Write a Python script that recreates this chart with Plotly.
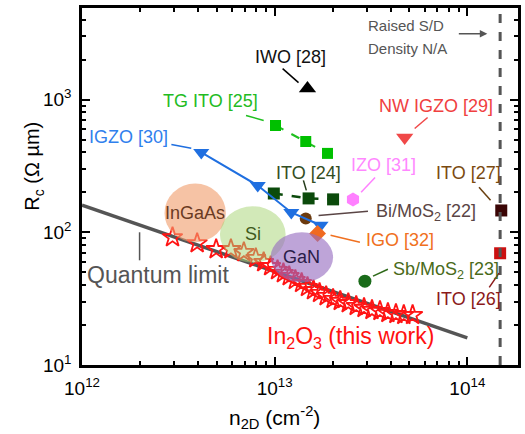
import numpy as np
import plotly.graph_objects as go

# ---- data: sheet density n2D (cm^-2) and contact resistance Rc (ohm*um) ----
in2o3_n = [2.95e12, 3.96e12, 4.97e12, 5.93e12, 6.92e12, 7.98e12, 8.77e12, 9.53e12,
           1.035e13, 1.11e13, 1.19e13, 1.28e13, 1.38e13, 1.48e13, 1.59e13, 1.71e13,
           1.85e13, 2.01e13, 2.19e13, 2.41e13, 2.65e13, 2.91e13, 3.20e13, 3.52e13,
           3.87e13, 4.26e13, 4.68e13, 5.20e13]
in2o3_rc = [91.6, 82.6, 74.5, 74.5, 70.8, 63.8, 59.5, 55.5, 51.8, 49.2, 46.7, 43.6,
            41.4, 38.6, 36.6, 34.8, 33.0, 31.4, 30.3, 29.2, 27.8, 26.9, 25.9, 25.5,
            24.6, 24.2, 23.8, 23.8]

quantum_n = [1e12, 1e14]
quantum_rc = [160, 16]

igzo30_n = [4.16e12, 8.17e12, 1.22e13, 1.73e13]
igzo30_rc = [400, 225, 141, 113]

tgito25_n = [1.01e13, 1.45e13, 1.88e13]
tgito25_rc = [638, 483, 393]

ito24_n = [9.9e12, 1.50e13, 2.01e13]
ito24_rc = [196, 180, 177]

iwo28_n, iwo28_rc = [1.48e13], [1210]
nwigzo29_n, nwigzo29_rc = [4.73e13], [518]
izo31_n, izo31_rc = [2.55e13], [177]
ito27_n, ito27_rc = [1.50e14], [146]
ito26_n, ito26_rc = [1.48e14], [69.5]
bimos22_n, bimos22_rc = [1.45e13], [127]
igo32_n, igo32_rc = [1.67e13], [98]
sbmos23_n, sbmos23_rc = [2.94e13], [42.8]

# benchmark regions of conventional semiconductors: (name, n range, Rc range)
regions = [
    ("InGaAs", (2.68e12, 5.58e12), (84, 233), "rgba(240,158,110,0.62)", "#6a3a22"),
    ("Si", (5.20e12, 1.14e13), (59, 157), "rgba(168,212,118,0.52)", "#3f5a1c"),
    ("GaN", (9.53e12, 2.01e13), (42, 100), "rgba(150,108,192,0.62)", "#2a1c48"),
]

raised_sd_n = 1.48e14

x_ticks = [1e12, 1e13, 1e14]
x_ticktext = ["10<sup>12</sup>", "10<sup>13</sup>", "10<sup>14</sup>"]
y_ticks = [10, 100, 1000]
y_ticktext = ["10<sup>1</sup>", "10<sup>2</sup>", "10<sup>3</sup>"]

X_RANGE = [12, 14.263]
Y_RANGE = [1, 3.69]
FONT = "Liberation Sans, Arial, sans-serif"
lg = np.log10


def fx(n):
    """sheet density -> paper fraction along x"""
    return (lg(n) - X_RANGE[0]) / (X_RANGE[1] - X_RANGE[0])


def fy(r):
    """contact resistance -> paper fraction along y"""
    return (lg(r) - Y_RANGE[0]) / (Y_RANGE[1] - Y_RANGE[0])


fig = go.Figure()

# quantum limit
fig.add_trace(go.Scatter(x=quantum_n, y=quantum_rc, mode="lines",
                         line=dict(color="#555555", width=3.5), hoverinfo="skip"))

# this work
fig.add_trace(go.Scatter(x=in2o3_n, y=in2o3_rc, mode="markers",
                         marker=dict(symbol="star-open", size=15, color="#ff1414",
                                     line=dict(width=1.8, color="#ff1414"))))

fig.add_trace(go.Scatter(x=tgito25_n, y=tgito25_rc, mode="lines+markers",
                         line=dict(color="#1fbf1f", width=2, dash="dash"),
                         marker=dict(symbol="square", size=11, color="#00c000")))
fig.add_trace(go.Scatter(x=ito24_n, y=ito24_rc, mode="lines+markers",
                         line=dict(color="#0b4a0b", width=2.5, dash="dash"),
                         marker=dict(symbol="square", size=12, color="#0b4a0b")))
fig.add_trace(go.Scatter(x=bimos22_n, y=bimos22_rc, mode="markers",
                         marker=dict(symbol="circle", size=12, color="#6b3a0e")))
fig.add_trace(go.Scatter(x=igzo30_n, y=igzo30_rc, mode="lines+markers",
                         line=dict(color="#1f6fe0", width=2),
                         marker=dict(symbol="triangle-down", size=14, color="#1f6fe0")))
fig.add_trace(go.Scatter(x=igo32_n, y=igo32_rc, mode="markers",
                         marker=dict(symbol="diamond", size=13, color="#f06a20")))
fig.add_trace(go.Scatter(x=iwo28_n, y=iwo28_rc, mode="markers",
                         marker=dict(symbol="triangle-up", size=15, color="#000000")))
fig.add_trace(go.Scatter(x=nwigzo29_n, y=nwigzo29_rc, mode="markers",
                         marker=dict(symbol="triangle-down", size=15, color="#f04848")))
fig.add_trace(go.Scatter(x=izo31_n, y=izo31_rc, mode="markers",
                         marker=dict(symbol="hexagon", size=14, color="#ff80ff")))
fig.add_trace(go.Scatter(x=sbmos23_n, y=sbmos23_rc, mode="markers",
                         marker=dict(symbol="circle", size=13, color="#1a6b1a")))
fig.add_trace(go.Scatter(x=ito27_n, y=ito27_rc, mode="markers",
                         marker=dict(symbol="square", size=12, color="#3a0505")))
fig.add_trace(go.Scatter(x=ito26_n, y=ito26_rc, mode="markers",
                         marker=dict(symbol="square", size=12, color="#cc1010")))

# empty trace that carries the minor-tick axes
fig.add_trace(go.Scatter(x=[], y=[], xaxis="x2", yaxis="y2", mode="markers",
                         hoverinfo="skip"))

shapes = []
annotations = []

# semiconductor regions, drawn over the data
for name, (n0, n1), (r0, r1), fill, tcol in regions:
    shapes.append(dict(type="circle", xref="paper", yref="paper",
                       x0=fx(n0), x1=fx(n1), y0=fy(r0), y1=fy(r1),
                       fillcolor=fill, line=dict(width=0), layer="above"))
    annotations.append(dict(x=(lg(n0) + lg(n1)) / 2, y=(lg(r0) + lg(r1)) / 2,
                            text=name, showarrow=False,
                            font=dict(size=18, color=tcol, family=FONT)))

# raised S/D boundary
shapes.append(dict(type="line", xref="paper", yref="paper", x0=fx(raised_sd_n),
                   x1=fx(raised_sd_n), y0=0, y1=1,
                   line=dict(color="#555555", width=3, dash="dash")))

# leader lines from labels to markers
leaders = [
    ((2.91e12, 459), (3.69e12, 429), "#1f6fe0"),
    ((7.10e12, 759), (8.77e12, 695), "#1fbf1f"),
    ((1.41e13, 246), (1.46e13, 207), "#223a18"),
    ((1.10e13, 1710), (1.33e13, 1343), "#000000"),
    ((6.22e13, 733), (5.33e13, 605), "#f04848"),
    ((3.32e13, 259), (2.81e13, 200), "#ff80ff"),
    ((1.15e14, 218), (1.32e14, 174), "#6a4010"),
    ((1.30e14, 38.5), (1.46e14, 49.2), "#8b1a1a"),
    ((1.69e13, 134), (3.05e13, 144), "#5a4545"),
    ((1.95e13, 95), (2.77e13, 84), "#f07020"),
    ((3.24e13, 46.7), (3.87e13, 52.7), "#2f6a1a"),
    ((1.99e12, 100), (1.99e12, 61.5), "#555555"),
]
for (n0, r0), (n1, r1), col in leaders:
    shapes.append(dict(type="line", xref="paper", yref="paper", x0=fx(n0), y0=fy(r0),
                       x1=fx(n1), y1=fy(r1), line=dict(color=col, width=1.5)))

labels = [
    ("IGZO [30]", 1.75e12, 518, "#2f80ed", 18),
    ("TG ITO [25]", 4.62e12, 982, "#22bb22", 18),
    ("ITO [24]", 1.50e13, 282, "#334d22", 18),
    ("IWO [28]", 1.21e13, 2090, "#111111", 18),
    ("NW IGZO [29]", 6.84e13, 902, "#f04040", 18),
    ("IZO [31]", 3.65e13, 319, "#ff88ff", 18),
    ("ITO [27]", 1.01e14, 278, "#7a4a10", 18),
    ("ITO [26]", 1.01e14, 31.3, "#8b1a1a", 18),
    ("Bi/MoS<sub>2</sub> [22]", 6.08e13, 141, "#5a4545", 18),
    ("IGO [32]", 4.46e13, 87, "#f07020", 18),
    ("Sb/MoS<sub>2</sub> [23]", 7.71e13, 51.8, "#4a6b1a", 18),
    ("In<sub>2</sub>O<sub>3</sub> (this work)", 2.47e13, 16.0, "#ff1010", 23),
    ("Quantum limit", 2.49e12, 47.5, "#555555", 23),
]
for text, n, r, col, size in labels:
    annotations.append(dict(x=lg(n), y=lg(r), text=text, showarrow=False,
                            font=dict(size=size, color=col, family=FONT)))

annotations += [
    dict(x=fx(2.98e13), y=fy(3597), xref="paper", yref="paper", text="Raised S/D",
         showarrow=False, xanchor="left", yanchor="middle",
         font=dict(size=15, color="#555555", family=FONT)),
    dict(x=fx(2.98e13), y=fy(2415), xref="paper", yref="paper", text="Density N/A",
         showarrow=False, xanchor="left", yanchor="middle",
         font=dict(size=15, color="#555555", family=FONT)),
    dict(x=fx(1.27e14), y=fy(3133), xref="paper", yref="paper", ax=-30, ay=0,
         text="", showarrow=True, arrowhead=2, arrowsize=1, arrowwidth=1.5,
         arrowcolor="#555555"),
    dict(x=fx(1.0e13), y=-0.148, xref="paper", yref="paper", showarrow=False,
         xanchor="center", yanchor="middle", text="n<sub>2D</sub> (cm<sup>-2</sup>)",
         font=dict(size=21, color="#000000", family=FONT)),
    dict(x=-0.111, y=0.557, xref="paper", yref="paper", showarrow=False,
         xanchor="center", yanchor="middle", textangle=-90,
         text="R<sub>c</sub> (Ω µm)", font=dict(size=20, color="#000000", family=FONT)),
]

x_minor = [m * 10.0 ** e for e in (12, 13, 14) for m in range(2, 10)]
y_minor = [m * 10.0 ** e for e in (1, 2, 3) for m in range(2, 10)]

major_common = dict(type="log", showgrid=False, zeroline=False, showline=True,
                    linecolor="#000000", linewidth=2.5, mirror="allticks",
                    ticks="inside", ticklen=8, tickwidth=2, tickcolor="#000000",
                    tickmode="array", ticklabelstandoff=4,
                    tickfont=dict(size=19, color="#000000", family=FONT))
minor_common = dict(type="log", showgrid=False, zeroline=False, showline=True,
                    linecolor="#000000", linewidth=2.5, mirror="allticks",
                    ticks="inside", ticklen=4.5, tickwidth=1.5, tickcolor="#000000",
                    tickmode="array", showticklabels=False)

fig.update_layout(
    width=525, height=434,
    margin=dict(l=82, r=4, t=8, b=69),
    paper_bgcolor="white", plot_bgcolor="white",
    showlegend=False,
    xaxis=dict(range=X_RANGE, tickvals=x_ticks, ticktext=x_ticktext, **major_common),
    yaxis=dict(range=Y_RANGE, tickvals=y_ticks, ticktext=y_ticktext, **major_common),
    xaxis2=dict(range=X_RANGE, tickvals=x_minor, overlaying="x", side="bottom",
                anchor="y2", **minor_common),
    yaxis2=dict(range=Y_RANGE, tickvals=y_minor, overlaying="y", side="left",
                anchor="x2", **minor_common),
    shapes=shapes,
    annotations=annotations,
)

fig.write_html("out.html")
